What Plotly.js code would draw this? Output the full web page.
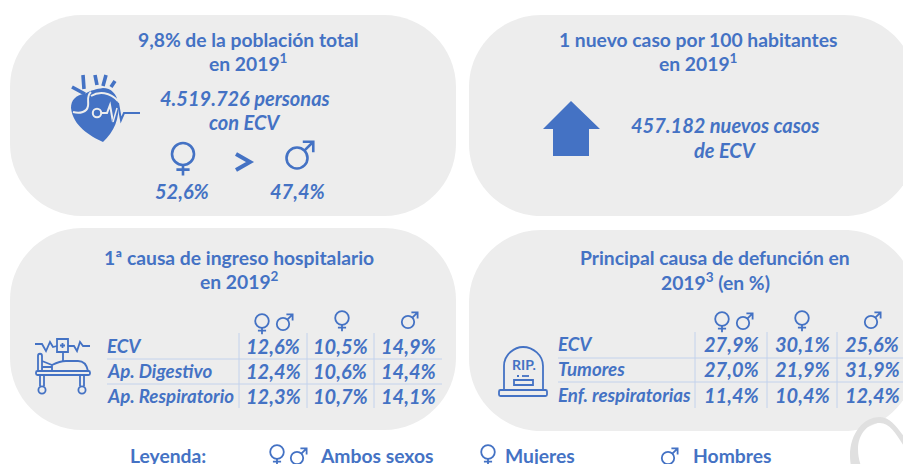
<!DOCTYPE html>
<html><head><meta charset="utf-8">
<script src="https://cdn.plot.ly/plotly-3.0.1.min.js"></script>
<style>html,body{margin:0;padding:0;background:#fff;overflow:hidden}#c{width:903px;height:464px}</style>
</head><body><div id="c"></div>
<script>
// ---- values ----
const hospCauses = ["ECV","Ap. Digestivo","Ap. Respiratorio"];
const hospBoth   = ["12,6%","12,4%","12,3%"];
const hospWomen  = ["10,5%","10,6%","10,7%"];
const hospMen    = ["14,9%","14,4%","14,1%"];
const deathCauses = ["ECV","Tumores","Enf. respiratorias"];
const deathBoth   = ["27,9%","27,0%","11,4%"];
const deathWomen  = ["30,1%","21,9%","10,4%"];
const deathMen    = ["25,6%","31,9%","12,4%"];
const titles = [
  ["9,8% de la población total","en 2019<sup>1</sup>"],
  ["1 nuevo caso por 100 habitantes","en 2019<sup>1</sup>"],
  ["1ª causa de ingreso hospitalario","en 2019<sup>2</sup>"],
  ["Principal causa de defunción en","2019<sup>3</sup> (en %)"]
];
const prevalence = ["4.519.726 personas","con ECV"];
const incidence = ["457.182 nuevos casos","de ECV"];
const womenShare = "52,6%", menShare = "47,4%";
const legendLabels = ["Leyenda:","Ambos sexos","Mujeres","Hombres"];

const BLUE="#4472C4", FONT="Lato, Carlito, 'Open Sans', sans-serif", PANEL="#EDEDED";
const shapes=[], annotations=[];
function txt(x,y,t,size,o){o=o||{};annotations.push({x,y,xref:'x',yref:'y',text:t,showarrow:false,
  xanchor:o.anchor||'center',yanchor:'middle',borderpad:0,font:{family:FONT,size,color:o.color||BLUE,weight:o.weight||700}});}
function path(d,o){o=o||{};shapes.push({type:'path',xref:'x',yref:'y',path:d,layer:'above',
  fillcolor:o.fill||'rgba(0,0,0,0)',line:{color:o.color||BLUE,width:o.width===undefined?2:o.width,dash:o.dash||'solid'}});}
function circ(cx,cy,r){const k=r*0.5523;return `M${cx-r} ${cy}C${cx-r} ${cy-k} ${cx-k} ${cy-r} ${cx} ${cy-r}C${cx+k} ${cy-r} ${cx+r} ${cy-k} ${cx+r} ${cy}C${cx+r} ${cy+k} ${cx+k} ${cy+r} ${cx} ${cy+r}C${cx-k} ${cy+r} ${cx-r} ${cy+k} ${cx-r} ${cy}Z`;}
function rrect(x0,y0,x1,y1,r){const k=r*0.45;return `M${x0+r} ${y0}L${x1-r} ${y0}C${x1-k} ${y0} ${x1} ${y0+k} ${x1} ${y0+r}L${x1} ${y1-r}C${x1} ${y1-k} ${x1-k} ${y1} ${x1-r} ${y1}L${x0+r} ${y1}C${x0+k} ${y1} ${x0} ${y1-k} ${x0} ${y1-r}L${x0} ${y0+r}C${x0} ${y0+k} ${x0+k} ${y0} ${x0+r} ${y0}Z`;}
function female(cx,cy,r,w){path(circ(cx,cy,r),{width:w});
  path(`M${cx} ${cy+r}L${cx} ${cy+r*1.95}M${cx-r*0.6} ${cy+r*1.42}L${cx+r*0.6} ${cy+r*1.42}`,{width:w});}
function male(cx,cy,r,w){path(circ(cx,cy,r),{width:w});
  const a=cx+r*0.7,b=cy-r*0.7,t=r*1.55,h=r*1.0;
  path(`M${a} ${b}L${cx+t} ${cy-t}M${cx+t-h} ${cy-t}L${cx+t} ${cy-t}L${cx+t} ${cy-t+h}`,{width:w});}

// panels
[[10,15,456,216],[469,15,916,216],[10,228,456,430],[469,230,916,431]].forEach(p=>{
  shapes.push({type:'path',xref:'x',yref:'y',layer:'below',path:rrect(p[0],p[1],p[2],p[3],72),fillcolor:PANEL,line:{width:0}});
});
// grey crescent at the lower right corner
shapes.push({type:'path',xref:'x',yref:'y',layer:'below',fillcolor:'#E0E0E0',line:{width:0},
  path:'M851 466C846 440 860 417 880 417C890 417 897 427 905 438L905 448C897 435 890 423 880 423C865 423 852 440 861 466Z'});

// titles
const TS=19.3;
[[248,39,62],[698,39,62],[239,257,280],[715,257,281]].forEach((p,i)=>{
  txt(p[0],p[1],titles[i][0],TS); txt(p[0],p[2],titles[i][1],TS);
});
// panel 1
txt(245,98,`<i>${prevalence[0]}</i>`,20); txt(245,122,`<i>${prevalence[1]}</i>`,20);
txt(182,191,`<i>${womenShare}</i>`,20); txt(297,191,`<i>${menShare}</i>`,20);
female(183,154,11,2.6); male(297,158,10.5,2.6);
path('M236 154L250 162L236 170',{width:4});
// panel 2
txt(725,125,`<i>${incidence[0]}</i>`,20); txt(725,150,`<i>${incidence[1]}</i>`,20);
// heart
path('M71 108C71 100 76 95 84 94C92 90 96 89 103 88C111 88 117 94 118 103C120 118 114 132 103 142C90 136 73 126 71 108Z',{fill:BLUE,width:0});
path('M83 75L84 89M72 87L85 94M95 75L97 85M106 75L103 86M115 81L111 87',{width:3.6});
path('M91 92C86 96 89 102 88 106C87 112 80 114 73 112M91 96C99 91 110 92 118 101',{color:PANEL,width:2});
path(circ(97,113,4.2),{color:PANEL,width:2});
path('M101 113L107 113L110 105L113 122',{color:PANEL,width:2});
path('M113 122L118 103L121 120L124 113L140 113',{width:2});
path('M113 122L117 108',{color:PANEL,width:1.5});
// arrow
path('M571 101L600 129L589 129L589 156L553 156L553 129L543 129Z',{fill:BLUE,width:0});
// bed
const bw=1.8;
path('M57 339L68 339L68 352L57 352Z',{width:bw});
path('M60 345.5L65 345.5M62.5 343L62.5 348M63 352L63 361',{width:bw});
path('M35 344L42 344L46 351L50 342L53 347L57 346M68 346L74 346L77 351L80 342L83 346L90 346',{width:bw});
path(rrect(36,371,90,375,1.5),{width:bw});
path('M38 371L38 356C38 353 42 353 42 356L42 371M42 361L52 365M42 367L52 367M52 371L52 365C58 362 62 361 66 361L78 361C84 361 87 366 88 371',{width:bw});
path('M40 375L40 386M44 375L44 386M80 375L80 386M84 375L84 386',{width:bw});
path(circ(42,390,3.6),{width:bw}); path(circ(82,390,3.6),{width:bw});
// tombstone
path('M504 390L504 366C504 354 515 347 523 347C533 347 543 355 543 366L543 390',{width:bw});
path(rrect(499,390,547,396,1.5),{width:bw});
path('M514 380L533 380L533 385L514 385Z',{width:bw});
path('M522 376L529 376',{width:bw}); path('M517 376L519 376',{width:bw});
txt(523.5,364,'RIP.',14,{});

// tables
function table(t){
  const top=t.top,bot=t.bot;
  t.vs.forEach(x=>path(`M${x} ${top}L${x} ${bot}`,{color:'#C3D2EC',width:1}));
  t.hs.forEach(y=>path(`M${t.x0} ${y}L${t.x1} ${y}`,{color:'#C3D2EC',width:1}));
  t.labels.forEach((l,i)=>{
    txt(t.x0-1,t.rows[i],`<i>${l}</i>`,18.7,{anchor:'left'});
    txt(t.cols[0],t.rows[i],`<i>${t.both[i]}</i>`,20);
    txt(t.cols[1],t.rows[i],`<i>${t.women[i]}</i>`,20);
    txt(t.cols[2],t.rows[i],`<i>${t.men[i]}</i>`,20);
  });
}
table({top:333,bot:408,vs:[239,307,374],hs:[359,384],x0:107,x1:442,rows:[346,371,396],cols:[273,340,408],
  labels:hospCauses,both:hospBoth,women:hospWomen,men:hospMen});
table({top:332,bot:408,vs:[695,767,837],hs:[358,382],x0:558,x1:903,rows:[344,369,395],cols:[731,802,872],
  labels:deathCauses,both:deathBoth,women:deathWomen,men:deathMen});
female(262,321,6.8,1.8); male(283,324,6.2,1.8); female(342,318,6.8,1.8); male(408,322,6.2,1.8);
female(722,319,6.8,1.8); male(743,323,6.2,1.8); female(802,318,6.8,1.8); male(871,322,6.2,1.8);

// legend
const LS=19.3, LY=455;
txt(129,LY,legendLabels[0],LS,{anchor:'left'});
txt(319,LY,legendLabels[1],LS,{anchor:'left'});
txt(504,LY,legendLabels[2],LS,{anchor:'left'});
txt(692,LY,legendLabels[3],LS,{anchor:'left'});
female(277,452,6.8,1.8); male(297,458,6.2,1.8); female(488,452,6.8,1.8); male(668,458,6.2,1.8);

Plotly.newPlot('c',[],{
  width:903,height:464,margin:{l:0,r:0,t:0,b:0},paper_bgcolor:'#fff',plot_bgcolor:'#fff',showlegend:false,
  xaxis:{range:[0,903],visible:false,fixedrange:true},
  yaxis:{range:[464,0],visible:false,fixedrange:true},
  shapes,annotations
},{staticPlot:true,displayModeBar:false});
</script></body></html>
